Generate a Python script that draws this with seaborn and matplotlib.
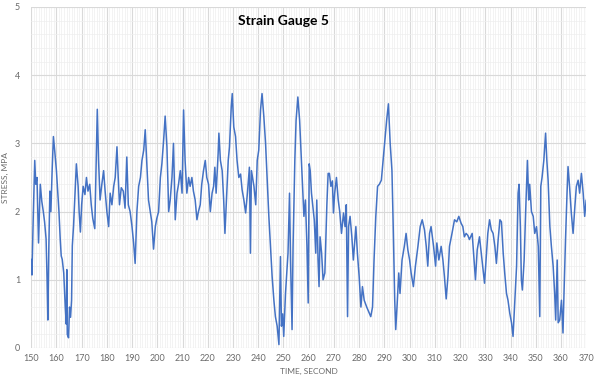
import pandas as pd
import matplotlib.pyplot as plt
import seaborn as sns
from matplotlib.ticker import MultipleLocator

# values (time in s, stress in MPa)
time_s = [
    150.0, 150.3, 150.8, 151.4, 151.8, 152.3, 152.9, 153.6, 154.2, 154.8,
    155.3, 155.9, 156.3, 156.6, 157.0, 157.4, 157.8, 158.3, 158.8, 159.3,
    160.0, 160.5, 161.0, 161.5, 161.9, 162.3, 162.9, 163.5, 163.9, 164.1,
    164.3, 164.8, 165.2, 165.6, 166.0, 166.3, 166.8, 167.3, 167.9, 168.6,
    169.0, 169.5, 170.0, 170.6, 171.3, 171.9, 172.5, 173.2, 173.8, 174.4,
    175.2, 175.7, 176.2, 176.7, 177.3, 178.0, 178.7, 179.3, 180.0, 180.7,
    181.3, 182.0, 182.7, 183.3, 184.0, 184.5, 185.0, 185.7, 186.5, 187.2,
    187.9, 188.5, 189.2, 189.9, 190.6, 191.2, 191.9, 192.6, 193.3, 193.9,
    194.6, 195.2, 195.9, 196.5, 197.2, 197.8, 198.5, 199.2, 199.8, 200.5,
    201.2, 201.8, 202.5, 203.1, 203.8, 204.5, 205.1, 205.8, 206.4, 207.1,
    207.8, 208.4, 209.1, 209.8, 210.4, 211.0, 211.7, 212.4, 213.0, 213.7,
    214.3, 215.0, 215.7, 216.3, 217.0, 217.6, 218.3, 219.0, 219.6, 220.3,
    221.0, 221.7, 222.3, 222.8, 223.3, 224.1, 224.4, 225.0, 225.7, 226.3,
    226.8, 227.3, 228.1, 228.6, 229.3, 229.7, 230.3, 231.0, 231.6, 232.3,
    233.0, 233.6, 234.3, 235.0, 235.7, 236.5, 236.9, 237.3, 238.3, 239.0,
    239.6, 240.2, 240.9, 241.5, 242.2, 242.9, 243.5, 244.2, 244.9, 245.5,
    246.2, 246.8, 247.5, 248.2, 248.8, 249.2, 249.7, 250.1, 250.8, 251.8,
    252.4, 252.8, 253.4, 253.8, 254.5, 255.0, 255.7, 256.4, 257.1, 258.1,
    258.7, 259.3, 259.8, 260.2, 260.6, 261.1, 262.2, 262.8, 263.2, 263.7,
    264.1, 264.5, 265.1, 265.7, 266.4, 267.2, 267.7, 268.2, 268.8, 269.4,
    269.8, 270.3, 271.0, 271.7, 272.3, 273.0, 273.8, 274.4, 274.9, 275.4,
    275.8, 276.4, 277.1, 277.7, 278.7, 279.3, 280.0, 280.7, 281.3, 282.0,
    283.0, 284.0, 284.6, 285.3, 285.9, 286.6, 287.3, 288.0, 288.8, 289.5,
    290.2, 290.9, 291.6, 292.3, 293.0, 293.5, 294.1, 294.5, 295.0, 295.7,
    296.2, 297.0, 297.9, 298.6, 299.3, 300.0, 300.6, 301.5, 302.3, 303.3,
    304.2, 305.0, 305.9, 306.6, 307.2, 307.9, 308.5, 309.5, 310.3, 310.8,
    311.6, 312.5, 313.2, 313.8, 314.5, 315.2, 315.8, 316.8, 317.8, 318.7,
    319.5, 320.4, 321.1, 321.7, 322.4, 323.1, 323.7, 324.8, 325.7, 326.1,
    326.8, 327.7, 328.7, 329.7, 330.3, 331.0, 331.7, 332.4, 333.1, 333.8,
    334.4, 335.1, 335.8, 336.4, 337.1, 337.7, 338.4, 339.0, 339.7, 340.4,
    341.0, 341.7, 342.4, 343.0, 343.4, 343.9, 344.3, 344.7, 345.4, 346.0,
    346.7, 347.2, 347.6, 348.3, 349.0, 349.6, 350.3, 351.0, 351.6, 352.0,
    352.5, 353.2, 353.9, 354.4, 354.9, 355.6, 356.2, 356.9, 357.5, 357.9,
    358.5, 358.9, 359.5, 360.2, 360.8, 361.2, 361.8, 362.4, 362.8, 363.4,
    364.1, 364.8, 365.5, 366.1, 366.8, 367.4, 368.1, 368.8, 369.4, 370.0,
]
stress_mpa = [
    1.30, 1.07, 1.90, 2.75, 2.40, 2.50, 1.54, 2.40, 2.15, 2.00,
    1.85, 1.60, 1.00, 0.41, 1.50, 2.30, 2.00, 2.60, 3.10, 2.90,
    2.60, 2.30, 2.00, 1.60, 1.35, 1.30, 1.10, 0.60, 0.35, 1.15,
    0.20, 0.15, 0.60, 0.45, 0.70, 1.50, 1.80, 2.20, 2.70, 2.37,
    2.00, 1.70, 2.10, 2.37, 2.25, 2.50, 2.30, 2.40, 2.10, 1.90,
    1.75, 2.60, 3.50, 2.75, 2.17, 2.40, 2.60, 2.30, 2.00, 1.78,
    2.27, 2.10, 2.37, 2.50, 2.95, 2.50, 2.10, 2.35, 2.30, 2.05,
    2.80, 2.10, 2.00, 1.80, 1.54, 1.24, 2.00, 2.37, 2.50, 2.75,
    2.90, 3.20, 2.65, 2.17, 2.00, 1.85, 1.45, 1.78, 1.90, 2.00,
    2.50, 2.70, 3.05, 3.40, 2.95, 2.00, 2.17, 2.50, 3.00, 1.88,
    2.27, 2.40, 2.60, 2.27, 3.49, 2.75, 2.27, 2.50, 2.37, 2.50,
    2.30, 2.17, 1.88, 2.00, 2.10, 2.40, 2.60, 2.75, 2.50, 2.40,
    2.00, 2.27, 2.37, 2.65, 2.27, 2.85, 3.15, 2.75, 2.60, 2.17,
    1.68, 2.10, 2.75, 2.95, 3.54, 3.73, 3.24, 3.10, 2.75, 2.50,
    2.55, 2.32, 2.17, 1.98, 2.27, 2.65, 1.39, 2.60, 2.37, 2.10,
    2.75, 2.90, 3.49, 3.73, 3.40, 3.00, 2.50, 1.93, 1.44, 1.05,
    0.70, 0.46, 0.32, 0.05, 1.34, 0.32, 0.50, 0.17, 0.80, 1.39,
    2.27, 1.29, 0.27, 1.49, 2.75, 3.34, 3.68, 3.34, 2.75, 1.93,
    2.17, 1.50, 0.66, 2.70, 2.60, 2.27, 1.88, 1.39, 2.17, 1.29,
    0.90, 1.63, 1.40, 1.00, 1.10, 2.10, 2.56, 2.56, 2.37, 2.45,
    1.98, 2.27, 2.50, 2.17, 2.00, 1.68, 1.98, 1.78, 2.10, 0.46,
    1.78, 1.93, 1.63, 1.29, 1.78, 1.39, 1.05, 0.60, 0.90, 0.70,
    0.60, 0.51, 0.46, 0.60, 1.29, 1.93, 2.37, 2.40, 2.46, 2.75,
    3.05, 3.34, 3.58, 3.00, 2.60, 1.78, 0.70, 0.27, 0.60, 1.10,
    0.80, 1.29, 1.49, 1.68, 1.44, 1.29, 1.10, 0.90, 1.20, 1.49,
    1.78, 1.88, 1.73, 1.49, 1.20, 1.68, 1.78, 1.49, 1.20, 1.54,
    1.29, 1.49, 1.29, 1.05, 0.72, 1.05, 1.49, 1.68, 1.88, 1.85,
    1.93, 1.83, 1.78, 1.63, 1.68, 1.65, 1.59, 1.68, 1.20, 1.00,
    1.44, 1.63, 1.29, 0.95, 1.29, 1.68, 1.88, 1.73, 1.68, 1.49,
    1.24, 1.59, 1.88, 1.85, 1.39, 1.10, 0.80, 0.70, 0.51, 0.37,
    0.17, 0.70, 1.20, 2.27, 2.40, 1.78, 1.00, 0.85, 1.29, 2.00,
    2.75, 2.17, 2.40, 2.00, 1.93, 1.68, 1.78, 1.49, 0.46, 2.37,
    2.50, 2.75, 3.15, 2.75, 2.46, 1.78, 1.49, 1.20, 0.80, 0.41,
    1.29, 0.37, 0.41, 0.70, 0.22, 0.80, 1.59, 2.27, 2.66, 2.37,
    1.98, 1.68, 2.07, 2.37, 2.46, 2.27, 2.56, 2.27, 1.93, 2.17,
]

gauge = pd.DataFrame({"time": time_s, "stress": stress_mpa})

sns.set_style("white")
plt.rcParams["font.family"] = ["Lato", "DejaVu Sans"]

fig = plt.figure(figsize=(6, 3.83), dpi=100)
ax = fig.add_axes([0.052, 0.0914, 0.925, 0.8904])

sns.lineplot(data=gauge, x="time", y="stress", color="#4472C4",
             linewidth=1.1, ax=ax)

ax.set_xlim(150, 370)
ax.set_ylim(0, 5)
ax.xaxis.set_major_locator(MultipleLocator(10))
ax.xaxis.set_minor_locator(MultipleLocator(1))
ax.yaxis.set_major_locator(MultipleLocator(1))
ax.yaxis.set_minor_locator(MultipleLocator(0.2))
ax.grid(which="major", color="#d9d9d9", linewidth=0.8)
ax.grid(which="minor", color="#eeeeee", linewidth=0.5)
ax.set_axisbelow(True)
for s in ax.spines.values():
    s.set_visible(False)
ax.tick_params(which="both", length=0, labelsize=6.5, labelcolor="#6b6b6b")
ax.tick_params(axis="y", pad=8)
ax.tick_params(axis="x", pad=4)

ax.set_xlabel("TIME, SECOND", fontsize=6, color="#6b6b6b", labelpad=4)
ax.set_ylabel("STRESS, MPA", fontsize=6, color="#6b6b6b", labelpad=4)
fig.text(0.472, 0.945, "Strain Gauge 5", ha="center", va="center",
         fontsize=10, fontweight="bold", color="black")

plt.savefig("out.png", dpi=100)
plt.close()
